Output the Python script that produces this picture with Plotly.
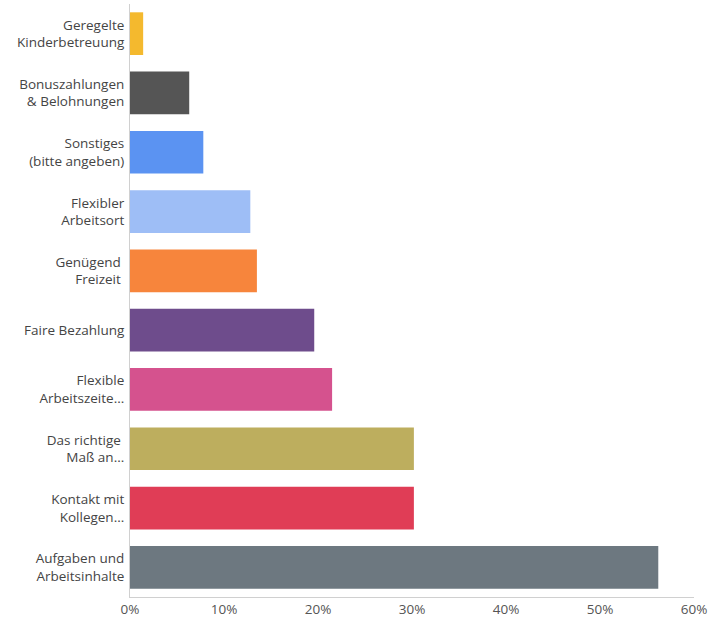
import plotly.graph_objects as go

categories = [
    "Geregelte<br>Kinderbetreuung",
    "Bonuszahlungen<br>& Belohnungen",
    "Sonstiges<br>(bitte angeben)",
    "Flexibler<br>Arbeitsort",
    "Genügend <br>Freizeit ",
    "Faire Bezahlung",
    "Flexible<br>Arbeitszeite...",
    "Das richtige <br>Maß an...",
    "Kontakt mit<br>Kollegen...",
    "Aufgaben und<br>Arbeitsinhalte",
]
values = [1.4, 6.3, 7.8, 12.8, 13.5, 19.6, 21.5, 30.2, 30.2, 56.2]
colors = ["#F4B92E", "#555555", "#5B93F2", "#9EBEF6", "#F7853C",
          "#6E4C8C", "#D5528E", "#BDAE5E", "#E03D56", "#6D7880"]

fig = go.Figure(go.Bar(
    x=values,
    y=categories,
    orientation="h",
    marker=dict(color=colors, line=dict(width=0)),
    width=0.72,
    hoverinfo="x+y",
))

fig.update_layout(
    width=710,
    height=625,
    margin=dict(l=130, r=16, t=4, b=28, autoexpand=False),
    plot_bgcolor="white",
    paper_bgcolor="white",
    font=dict(family="Open Sans, sans-serif", size=13.5, color="#444444"),
    showlegend=False,
    xaxis=dict(
        range=[0, 60],
        dtick=10,
        ticksuffix="%",
        showgrid=False,
        zeroline=False,
        showline=True,
        linecolor="#d0d0d0",
        linewidth=1,
        ticks="",
        tickfont=dict(color="#555555"),
        fixedrange=True,
    ),
    yaxis=dict(
        autorange="reversed",
        showgrid=False,
        zeroline=False,
        showline=True,
        linecolor="#d0d0d0",
        linewidth=1,
        ticks="",
        ticklabelstandoff=2,
        fixedrange=True,
    ),
)

# drop the default body margin so the figure fills the window exactly
fig.write_html("out.html", config={"displayModeBar": False},
               post_script="document.body.style.margin='0px';")
